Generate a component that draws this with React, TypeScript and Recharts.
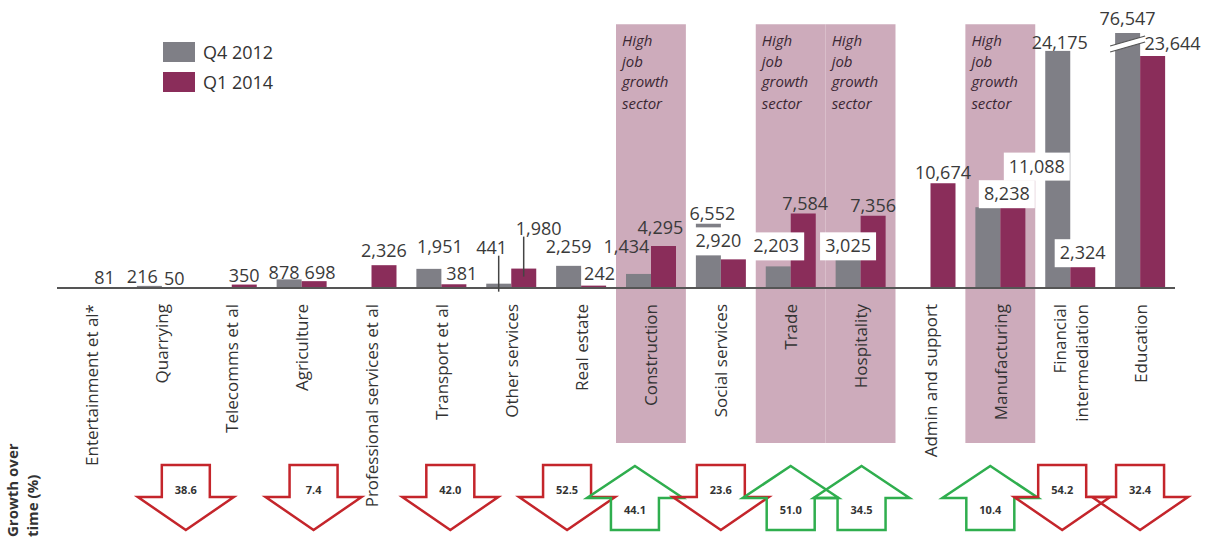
import React from 'react';
import { ComposedChart, Bar, Line, XAxis, YAxis, ReferenceArea, Legend } from 'recharts';

// ---------- data ----------
const categories = [
  'Entertainment et al*',
  'Quarrying',
  'Telecomms et al',
  'Agriculture',
  'Professional services et al',
  'Transport et al',
  'Other services',
  'Real estate',
  'Construction',
  'Social services',
  'Trade',
  'Hospitality',
  'Admin and support',
  'Manufacturing',
  'Financial\nintermediation',
  'Education',
];
const seriesNames = ['Q4 2012', 'Q1 2014'];
// bar heights as drawn in the picture
const q4_2012 = [null, 216, null, 878, null, 1951, 441, 2259, 1434, 6552, 2203, 3025, null, 8238, 24175, 76547];
const q1_2014 = [81, 50, 350, 698, 2326, 381, 1980, 242, 4295, 2920, 7584, 7356, 10674, 8300, 2324, 23644];
// value labels as printed
const q4Labels = ['', '216', '', '878', '', '1,951', '441', '2,259', '1,434', '6,552', '2,203', '3,025', '', '8,238', '24,175', '76,547'];
const q1Labels = ['81', '50', '350', '698', '2,326', '381', '1,980', '242', '4,295', '2,920', '7,584', '7,356', '10,674', '11,088', '2,324', '23,644'];
// growth over time (%), sign gives arrow direction
const growthPct = [null, -38.6, null, -7.4, null, -42.0, null, -52.5, 44.1, -23.6, 51.0, 34.5, null, 10.4, -54.2, -32.4];
const highGrowthSectors = ['Construction', 'Trade', 'Hospitality', 'Manufacturing'];
const sectorNote = ['High', 'job', 'growth', 'sector'];
const growthTitle = ['Growth over', 'time (%)'];
const AXIS_MAX = 26000;

// ---------- layout / style ----------
const W = 1205;
const H = 540;
const PLOT_TOP = 33;
const PLOT_BOTTOM = 288;
const GRAY = '#7f7f86';
const MAROON = '#8a2d5a';
const PINK = '#cdabbb';
const RED = '#c4252b';
const GREEN = '#2fae4e';
const TEXT = '#3a3a3a';
const FONT = '"Open Sans", "Noto Sans", sans-serif';
const HALF_BAR = 12.5;

// label nudges [dx, dy] from the default spot above each bar
const q4Nudge: Record<number, [number, number]> = {
  1: [-7, 1], 3: [-5, 4], 5: [11, -12], 6: [-7, -26], 7: [0, -9], 8: [-12, -17], 9: [4, 0],
  10: [-2, -10], 11: [0, -2], 13: [19, -3], 14: [2, 2], 15: [0, -4],
};
const q1Nudge: Record<number, [number, number]> = {
  0: [0, 1], 1: [0, 1], 2: [0, 1], 3: [6, 2], 4: [0, -4], 5: [8, 0], 6: [15, -30], 7: [6, -2],
  8: [-3, -8], 9: [-15, -8], 10: [2, 0], 11: [0, 0], 12: [0, 0], 13: [24, -30], 14: [0, -2], 15: [20, -2],
};
const q4Boxed = new Set([10, 11, 13]);
const q1Boxed = new Set([9, 13, 14]);
const q4Leader = new Set([6]);
const q1Leader = new Set([6]);
const arrowNudge: Record<number, number> = {
  1: 24, 3: 12, 5: 9, 7: -14, 8: -16, 9: 0, 10: 0, 11: 1, 13: -10, 14: -8, 15: 0,
};

const data = categories.map((name, i) => ({
  name,
  q4: q4_2012[i] == null ? null : Math.min(q4_2012[i] as number, AXIS_MAX),
  q1: q1_2014[i],
  q4Broken: q4_2012[i] != null && (q4_2012[i] as number) > AXIS_MAX,
  anchor: 0,
}));

// ---------- renderers ----------
const GrayShape = (props: any) => {
  const { x, y, width, height, payload } = props;
  if (!height || height <= 0) return <g />;
  return (
    <g>
      <rect x={x} y={y} width={width} height={height} fill={GRAY} />
      {payload && payload.q4Broken ? (
        <g>
          <polygon
            points={`${x - 5},${y + 19} ${x + width + 5},${y + 9} ${x + width + 5},${y + 3} ${x - 5},${y + 13}`}
            fill="#fff"
          />
          <line x1={x - 5} y1={y + 19} x2={x + width + 5} y2={y + 9} stroke="#555" strokeWidth={1.2} />
          <line x1={x - 5} y1={y + 13} x2={x + width + 5} y2={y + 3} stroke="#555" strokeWidth={1.2} />
        </g>
      ) : null}
    </g>
  );
};

const makeValueLabel = (
  labels: string[],
  nudge: Record<number, [number, number]>,
  boxed: Set<number>,
  leader: Set<number>,
  side: number,
  prefix: string,
) => (props: any) => {
  const { cx, cy, index } = props;
  const text = labels[index];
  if (!text || cx == null || cy == null || Number.isNaN(cy)) return <g key={`${prefix}-${index}`} />;
  const bx = cx + side * HALF_BAR;
  const [dx, dy] = nudge[index] || [0, 0];
  const tx = bx + dx;
  const ty = cy - 11 + dy;
  const bw = text.length * 10 + 6;
  return (
    <g key={`${prefix}-${index}`}>
      {leader.has(index) ? (
        <line x1={bx} y1={ty + 9} x2={bx} y2={cy + 8} stroke="#444" strokeWidth={1.5} />
      ) : null}
      {boxed.has(index) ? <rect x={tx - bw / 2} y={ty - 13} width={bw} height={28} fill="#fff" /> : null}
      <text
        x={tx}
        y={ty}
        textAnchor="middle"
        dominantBaseline="central"
        fontSize={18}
        fontFamily={FONT}
        fill={TEXT}
      >
        {text}
      </text>
    </g>
  );
};

const renderQ4Label = makeValueLabel(q4Labels, q4Nudge, q4Boxed, q4Leader, -1, 'q4l');
const renderQ1Label = makeValueLabel(q1Labels, q1Nudge, q1Boxed, q1Leader, 1, 'q1l');

const renderArrow = (props: any) => {
  const { cx, index } = props;
  const g = growthPct[index];
  if (g == null || cx == null) return <g key={`arr-${index}`} />;
  const c = cx + (arrowNudge[index] || 0);
  const sw = 24;
  const hw = 48;
  if (g < 0) {
    const pts = `${c - sw},465 ${c + sw},465 ${c + sw},497 ${c + hw},497 ${c},530 ${c - hw},497 ${c - sw},497`;
    return (
      <g key={`arr-${index}`}>
        <polygon points={pts} fill="none" stroke={RED} strokeWidth={2.5} strokeLinejoin="miter" />
        <text x={c} y={489} textAnchor="middle" dominantBaseline="central" fontSize={11} fontWeight="bold" fontFamily={FONT} fill="#333">
          {Math.abs(g).toFixed(1)}
        </text>
      </g>
    );
  }
  const pts = `${c},466 ${c + hw},498 ${c + sw},498 ${c + sw},530 ${c - sw},530 ${c - sw},498 ${c - hw},498`;
  return (
    <g key={`arr-${index}`}>
      <polygon points={pts} fill="none" stroke={GREEN} strokeWidth={2.5} strokeLinejoin="miter" />
      <text x={c} y={509} textAnchor="middle" dominantBaseline="central" fontSize={11} fontWeight="bold" fontFamily={FONT} fill="#333">
        {g.toFixed(1)}
      </text>
    </g>
  );
};

const renderTick = (props: any) => {
  const { x, payload } = props;
  const lines = String(payload.value).split('\n');
  const n = lines.length;
  return (
    <g transform={`translate(${x},${PLOT_BOTTOM + 16}) rotate(-90)`}>
      {lines.map((ln, k) => (
        <text
          key={k}
          x={0}
          y={(k - (n - 1) / 2) * 22}
          textAnchor="end"
          dominantBaseline="central"
          fontSize={17}
          fontFamily={FONT}
          fill="#333"
        >
          {ln}
        </text>
      ))}
    </g>
  );
};

const renderGrowthTitle = (props: any) => {
  const vb = props.viewBox || { x: 57 };
  const x0 = vb.x - 45;
  return (
    <g>
      {growthTitle.map((t, k) => (
        <text
          key={k}
          transform={`translate(${x0 + k * 20},${H - 3}) rotate(-90)`}
          textAnchor="start"
          dominantBaseline="central"
          fontSize={15}
          fontWeight="bold"
          fontFamily={FONT}
          fill="#333"
        >
          {t}
        </text>
      ))}
    </g>
  );
};

const renderSectorNote = (props: any) => {
  const vb = props.viewBox;
  if (!vb) return null;
  const offs = [16, 37, 57, 79];
  return (
    <g>
      {sectorNote.map((t, k) => (
        <text
          key={k}
          x={vb.x + 6}
          y={vb.y + offs[k]}
          dominantBaseline="central"
          fontSize={15}
          fontStyle="italic"
          fontFamily={FONT}
          fill="#3a2733"
        >
          {t}
        </text>
      ))}
    </g>
  );
};

const renderLegend = (props: any) => {
  const items = seriesNames
    .map((nm) => (props.payload || []).find((p: any) => p.value === nm))
    .filter(Boolean);
  return (
    <div>
      {items.map((p: any) => (
        <div key={p.value} style={{ display: 'flex', alignItems: 'center', height: 30 }}>
          <span style={{ display: 'inline-block', width: 32, height: 20, background: p.color, marginRight: 8 }} />
          <span style={{ fontFamily: FONT, fontSize: 18, color: '#333' }}>{p.value}</span>
        </div>
      ))}
    </div>
  );
};

export default function App() {
  return (
    <div style={{ position: 'absolute', left: 0, top: 0, width: W, height: H, background: '#fff' }}>
      <ComposedChart
        width={W}
        height={H}
        data={data}
        margin={{ top: PLOT_TOP, right: 30, left: 57, bottom: 0 }}
        barGap={0}
      >
        {highGrowthSectors.map((s) => (
          <ReferenceArea
            key={s}
            yAxisId="v"
            x1={s}
            x2={s}
            y1={-15800}
            y2={26900}
            ifOverflow="visible"
            fill={PINK}
            fillOpacity={1}
            stroke="none"
            label={renderSectorNote}
          />
        ))}
        <XAxis
          dataKey="name"
          interval={0}
          height={H - PLOT_BOTTOM}
          tickLine={false}
          axisLine={{ stroke: '#555', strokeWidth: 2 }}
          tick={renderTick}
          label={renderGrowthTitle}
        />
        <YAxis yAxisId="v" hide domain={[0, AXIS_MAX]} />
        <YAxis yAxisId="g" hide domain={[0, 1]} />
        <Legend
          layout="vertical"
          align="center"
          verticalAlign="middle"
          content={renderLegend}
          wrapperStyle={{ top: 37, left: 163, width: 140 }}
        />
        <Bar yAxisId="v" dataKey="q4" name={seriesNames[0]} fill={GRAY} barSize={25} shape={GrayShape} isAnimationActive={false} />
        <Bar yAxisId="v" dataKey="q1" name={seriesNames[1]} fill={MAROON} barSize={25} isAnimationActive={false} />
        <Line yAxisId="v" dataKey="q4" stroke="none" legendType="none" dot={renderQ4Label} activeDot={false} isAnimationActive={false} />
        <Line yAxisId="v" dataKey="q1" stroke="none" legendType="none" dot={renderQ1Label} activeDot={false} isAnimationActive={false} />
        <Line yAxisId="g" dataKey="anchor" stroke="none" legendType="none" dot={renderArrow} activeDot={false} isAnimationActive={false} />
      </ComposedChart>
    </div>
  );
}
